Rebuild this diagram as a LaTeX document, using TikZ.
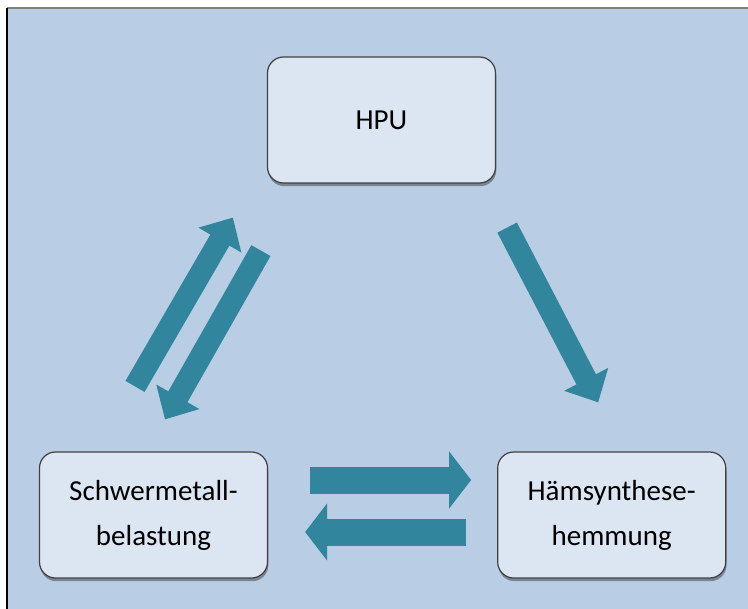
\documentclass[tikz,border=0pt]{standalone}
\usepackage{fontspec}
\setmainfont{Carlito}
\usetikzlibrary{positioning,arrows.meta,shadows}

\definecolor{panelblue}{HTML}{B9CDE4}
\definecolor{boxfill}{HTML}{DCE6F2}
\definecolor{arrowteal}{HTML}{31859C}

\tikzset{
  box/.style={draw=black!75, line width=0.6pt, fill=boxfill, rounded corners=8pt,
    minimum width=114pt, minimum height=63pt, align=center,
    font=\fontsize{14.5pt}{22.5pt}\selectfont,
    drop shadow={shadow xshift=0.4pt, shadow yshift=-1.6pt, fill=black, opacity=0.35}},
  flow/.style={draw=arrowteal, line width=13.5pt, -{Triangle[width=28pt,length=11pt]}},
  diagflow/.style={draw=arrowteal, line width=11pt, -{Triangle[width=24pt,length=13pt]}}
}

\begin{document}
\begin{tikzpicture} [x=0.5pt,y=-0.5pt]
    \useasboundingbox (0,0) rectangle (748,609);
    \fill[panelblue] (7,8) rectangle (748,609);
    \draw[gray, line width=0.8pt] (7,8) -- (748,8);
    \draw[black, line width=0.8pt] (7,8) -- (7,609);

    \node[box] (hpu) at (381.5,120) {HPU};
    \node[box] (metal) at (153.5,515) {Schwermetall-\\belastung};
    \node[box,right=114.5pt of metal] (haem) {Hämsynthese-\\hemmung};

    \path ([yshift=17.5pt]metal.east) edge [flow, shorten <=21pt, shorten >=13pt] ([yshift=17.5pt]haem.west);
    \path ([yshift=-8.5pt]haem.west) edge [flow, shorten <=15.5pt, shorten >=18.5pt] ([yshift=-8.5pt]metal.east);
    \path ([shift={(-18.5,-65)}]metal.north) edge [diagflow] ([shift={(-34,34)}]hpu.south west);
    \path ([shift={(-6,67)}]hpu.south west) edge [diagflow] ([shift={(11.5,-32)}]metal.north);
    \path ([shift={(11,44)}]hpu.south east) edge [diagflow] ([shift={(-13.5,-49)}]haem.north);
\end{tikzpicture}
\end{document}
